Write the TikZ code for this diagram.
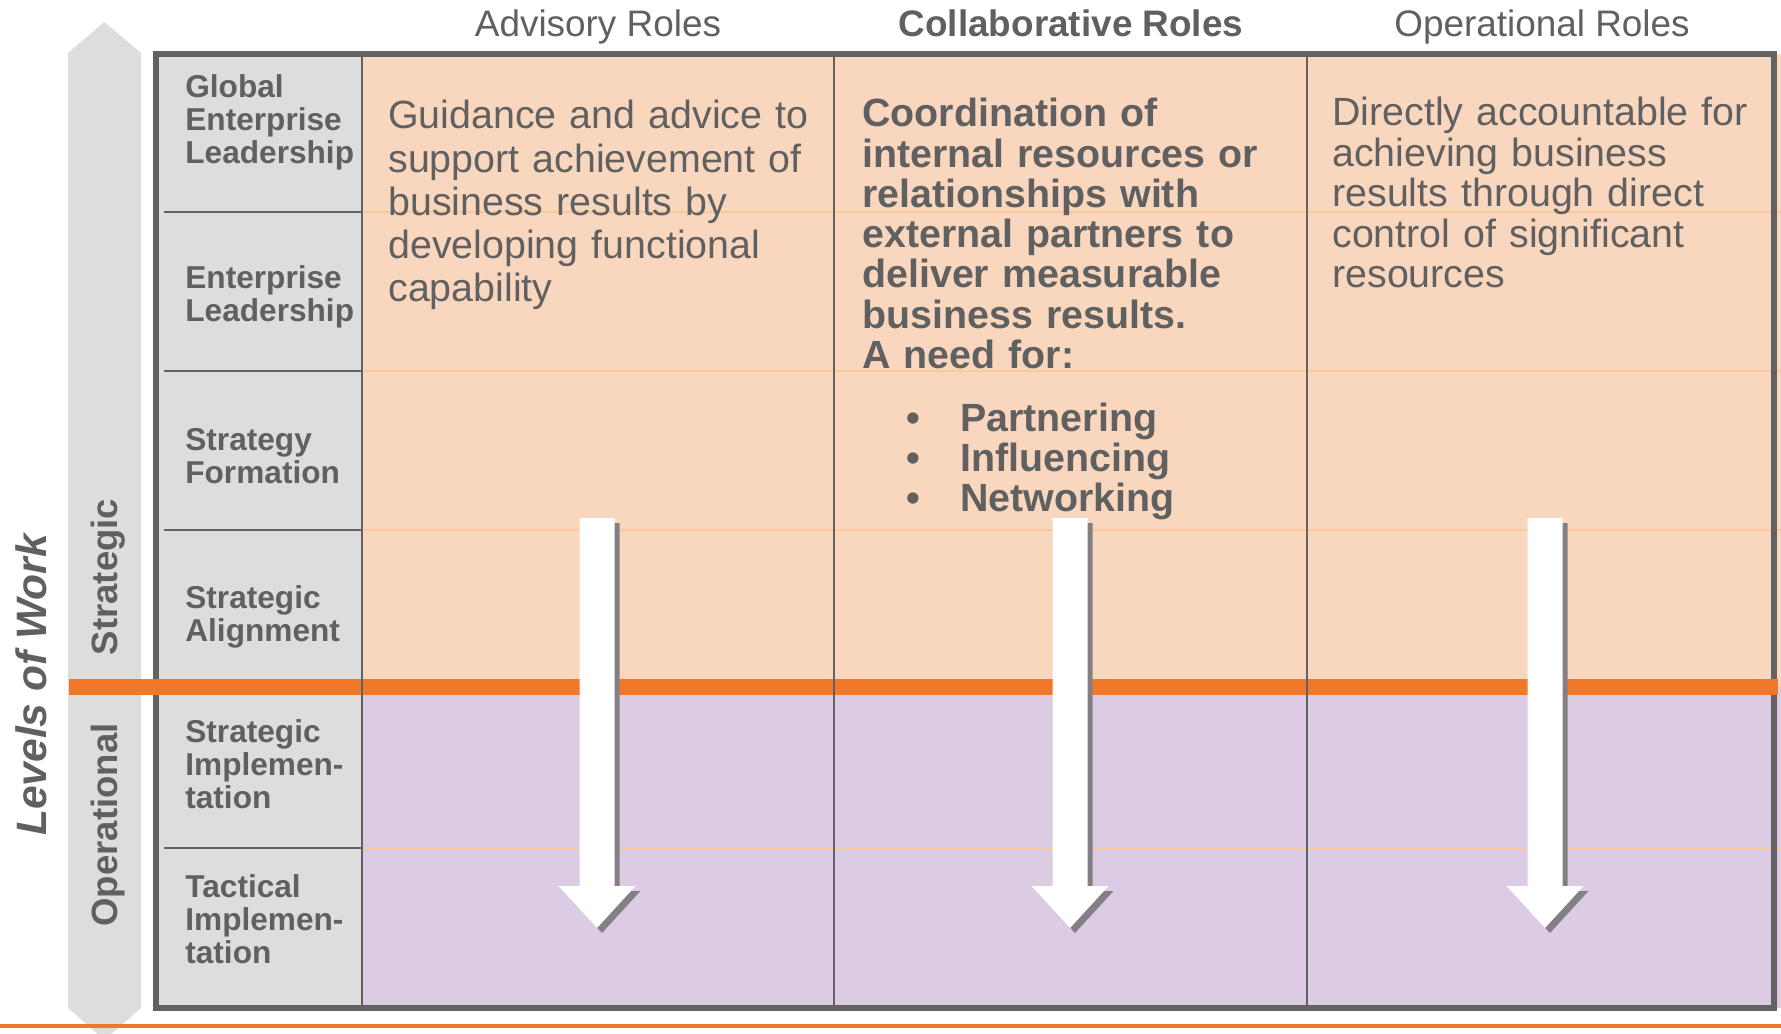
\documentclass[tikz,border=0pt]{standalone}
\usepackage{fontspec}
\setmainfont{Liberation Sans}
\usepackage{xcolor}
\usepackage{tikz}
\usetikzlibrary{positioning}
\definecolor{lwGrey}  {RGB}{ 96, 96, 96}
\definecolor{lwFrame} {RGB}{ 98, 98, 98}
\definecolor{lwPanel} {RGB}{221,221,221}
\definecolor{lwPeach} {RGB}{249,214,190}
\definecolor{lwLilac} {RGB}{219,204,227}
\definecolor{lwOrange}{RGB}{240,120, 40}
\definecolor{lwRule}  {RGB}{253,200,150}
\definecolor{lwShadow}{RGB}{132,127,132}

\begin{document}
\begin{tikzpicture}[
  x=0.02cm, y=-0.02cm,
  lvlcell/.style={anchor=base west,inner sep=0pt,text width=3.6cm,align=left,
               text=lwGrey,font=\bfseries\fontsize{18pt}{18.8pt}\selectfont},
  rolehead/.style={anchor=base,inner sep=0pt,text=lwGrey,
               font=\fontsize{21pt}{24pt}\selectfont},
  roletext/.style={anchor=base west,inner sep=0pt,text width=9cm,align=left,
               text=lwGrey},
  sidetag/.style={anchor=base,inner sep=0pt,rotate=90,text=lwGrey,
               font=\bfseries\fontsize{20.8pt}{24pt}\selectfont},
]
\useasboundingbox (0,0) rectangle (1781,1034);

% grey double arrow behind the level names
\fill[lwPanel] (68,53) -- (104.5,22) -- (141,53) -- (141,1008)
  -- (104.5,1040) -- (68,1008) -- cycle;

% cell backgrounds
\fill[lwPanel] (156,54) rectangle (362,1008);
\fill[lwPeach] (362,54) rectangle (1781,687);
\fill[lwLilac] (362,687) rectangle (1781,1008);

% row rules
\foreach \ry in {212,371,530,848}{
  \draw[lwFrame,line width=1.6pt] (164,\ry) -- (362,\ry);
  \draw[lwRule,line width=1pt] (362,\ry) -- (1781,\ry);
}

\draw[lwFrame,line width=3.4pt] (156,54) rectangle (1774,1008);

% strategic / operational split
\fill[lwOrange] (69,679) rectangle (1778,695);
\foreach \cx in {362,834,1307}
  \draw[lwFrame,line width=1.4pt] (\cx,54) -- (\cx,1008);

% downward arrows with hard shadow
\foreach \ax in {597,1070,1545}
  \foreach \sh/\col in {5/lwShadow,0/white}
    \fill[\col,shift={(\sh,\sh)}] (\ax-17.5,518) -- (\ax+17.5,518)
      -- (\ax+17.5,886) -- (\ax+38.5,886) -- (\ax,928)
      -- (\ax-38.5,886) -- (\ax-17.5,886) -- cycle;

\draw[lwOrange,line width=2.3pt] (0,1026) -- (1781,1026);

% column heads
\node[rolehead] (hAdv) at (598,37) {Advisory Roles};
\node[rolehead,font=\bfseries\fontsize{21pt}{24pt}\selectfont] (hCol)
  at (1071,37) {Collaborative Roles};
\node[rolehead] (hOp) at (1542,37) {Operational Roles};

% level names
\node[lvlcell] (lvGlobal) at (185,97)  {Global\\Enterprise\\Leadership};
\node[lvlcell] (lvEnt)    at (185,288) {Enterprise\\Leadership};
\node[lvlcell] (lvForm)   at (185,450) {Strategy\\Formation};
\node[lvlcell] (lvAlign)  at (185,608) {Strategic\\Alignment};
\node[lvlcell] (lvImpl)   at (185,742) {Strategic\\Implemen-\\tation};
\node[lvlcell] (lvTact)   at (185,897) {Tactical\\Implemen-\\tation};

% role descriptions
\node[roletext,font=\fontsize{22.4pt}{24.5pt}\selectfont] (txAdv) at (388,129)
  {Guidance and advice to\\support achievement of\\business results by\\
   developing functional\\capability};
\node[roletext,font=\bfseries\fontsize{22.4pt}{22.9pt}\selectfont] (txCol)
  at (862,127)
  {Coordination of\\internal resources or\\relationships with\\
   external partners to\\deliver measurable\\business results.\\A need for:};
\node[roletext,font=\bfseries\fontsize{22.4pt}{22.9pt}\selectfont] (txNeed)
  at (906,431)
  {\makebox[1.08cm][l]{\textbullet}Partnering\\
   \makebox[1.08cm][l]{\textbullet}Influencing\\
   \makebox[1.08cm][l]{\textbullet}Networking};
\node[roletext,font=\fontsize{22.4pt}{23pt}\selectfont] (txOp) at (1332,126)
  {Directly accountable for\\achieving business\\results through direct\\
   control of significant\\resources};

% side labels
\node[sidetag,font=\bfseries\itshape\fontsize{24.2pt}{26pt}\selectfont] (sdWork)
  at (46,685) {Levels of Work};
\node[sidetag] (sdStrat) at (117,577) {Strategic};
\node[sidetag] (sdOper)  at (117,825) {Operational};
\end{tikzpicture}
\end{document}
